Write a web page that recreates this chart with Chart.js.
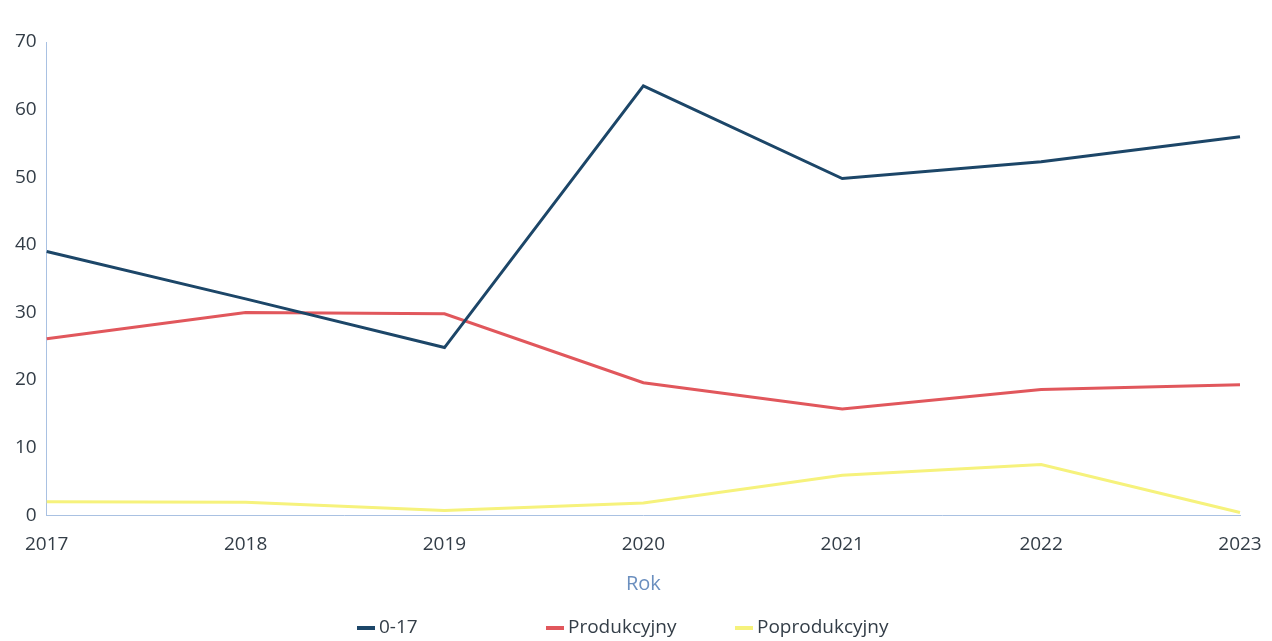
<!DOCTYPE html>
<html>
<head>
<meta charset="utf-8">
<script src="https://cdn.jsdelivr.net/npm/chart.js@4/dist/chart.umd.min.js"></script>
<style>
  html, body { margin: 0; padding: 0; background: #ffffff; }
  #wrap { width: 1272px; height: 641px; }
</style>
</head>
<body>
<div id="wrap"><canvas id="chart" width="1272" height="641"></canvas></div>
<script>
// dane z wykresu
const lata = ['2017', '2018', '2019', '2020', '2021', '2022', '2023'];
const wiek017 = [39, 32, 24.8, 63.5, 49.8, 52.3, 56];
const produkcyjny = [26.1, 30, 29.8, 19.6, 15.7, 18.6, 19.3];
const poprodukcyjny = [2, 1.9, 0.7, 1.8, 5.9, 7.5, 0.4];

const kolorTekstu = '#333d47';
const kolorOsi = '#a9c1e2';

// legenda w stałych kolumnach, jak w oryginale
const legendaKolumny = {
    id: 'legendaKolumny',
    afterDraw(chart) {
        const ctx = chart.ctx;
        const y = 628;
        ctx.save();
        ctx.font = '19px "Open Sans", sans-serif';
        ctx.textBaseline = 'middle';
        chart.data.datasets.forEach((ds, i) => {
            const x = 357 + i * 189;
            ctx.fillStyle = ds.borderColor;
            ctx.fillRect(x, y - 2, 18, 4);
            ctx.fillStyle = kolorTekstu;
            ctx.fillText(ds.label, x + 22, y);
        });
        ctx.restore();
    }
};

new Chart(document.getElementById('chart'), {
    type: 'line',
    data: {
        labels: lata,
        datasets: [
            { label: '0-17', data: wiek017, borderColor: '#1c4668', borderWidth: 3 },
            { label: 'Produkcyjny', data: produkcyjny, borderColor: '#e1575c', borderWidth: 3 },
            { label: 'Poprodukcyjny', data: poprodukcyjny, borderColor: '#f6f27c', borderWidth: 3 }
        ]
    },
    options: {
        responsive: false,
        animation: false,
        elements: {
            point: { radius: 0 },
            line: { tension: 0 }
        },
        layout: {
            padding: { top: 42, right: 32, bottom: 47, left: 5 }
        },
        scales: {
            x: {
                offset: false,
                grid: { drawOnChartArea: false, drawTicks: false },
                border: { display: true, color: kolorOsi, width: 1 },
                ticks: {
                    color: kolorTekstu,
                    padding: 18,
                    maxRotation: 0,
                    font: { family: '"Open Sans", sans-serif', size: 19 }
                },
                title: {
                    display: true,
                    text: 'Rok',
                    color: '#6b8fbf',
                    padding: { top: 0, bottom: 0 },
                    font: { family: '"Open Sans", sans-serif', size: 20, lineHeight: 1.0 }
                },
                // etykiety skrajne nie przesuwają obszaru wykresu
                afterFit(scale) {
                    scale.paddingLeft = 0;
                    scale.paddingRight = 0;
                }
            },
            y: {
                min: 0,
                max: 70,
                grid: { drawOnChartArea: false, drawTicks: false },
                border: { display: true, color: kolorOsi, width: 1 },
                ticks: {
                    stepSize: 10,
                    color: kolorTekstu,
                    padding: 10,
                    font: { family: '"Open Sans", sans-serif', size: 19 }
                }
            }
        },
        plugins: {
            legend: { display: false },
            tooltip: { enabled: false }
        }
    },
    plugins: [legendaKolumny]
});
</script>
</body>
</html>
